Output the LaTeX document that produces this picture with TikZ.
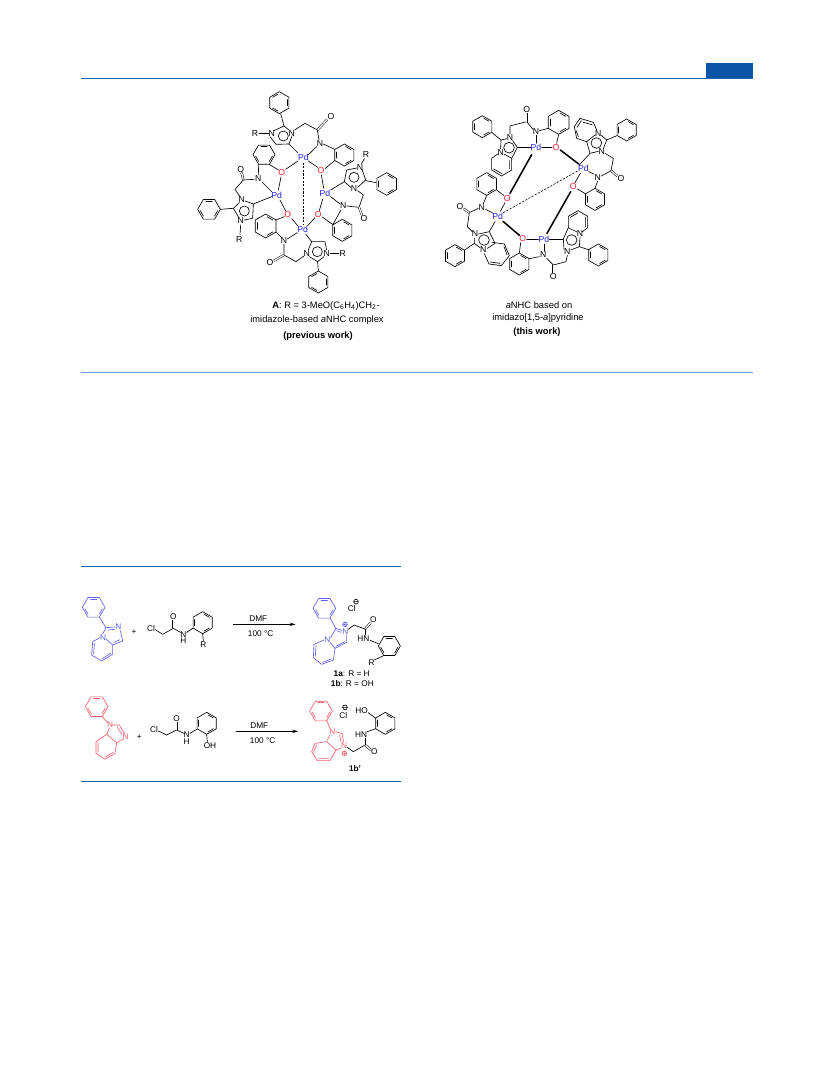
\documentclass[tikz,border=0pt]{standalone}
\usepackage{fontspec}
\setmainfont{Liberation Sans}
\usetikzlibrary{arrows.meta}
\definecolor{rulec}{HTML}{1F62AE}
\definecolor{rulel}{HTML}{6C9BD6}
\definecolor{tabc}{HTML}{0A55A6}
\definecolor{pdblue}{HTML}{2020F0}
\definecolor{oxred}{HTML}{F02030}
\definecolor{bluec}{HTML}{5F5FEE}
\definecolor{redc}{HTML}{F2606E}
\tikzset{
  bond/.style={line width=.48pt,line join=round,line cap=round},
  thick bond/.style={line width=1.15pt,line cap=round},
  dbond/.style={double,line width=.38pt,double distance=.95pt},
  dash bond/.style={line width=.45pt,dash pattern=on 1.6pt off 1.1pt},
  atom/.style={inner sep=0pt,font=\fontsize{6.5}{7.5}\selectfont},
  small/.style={inner sep=0pt,font=\fontsize{6.2}{7.2}\selectfont},
  capt/.style={inner sep=0pt,font=\fontsize{7}{8.4}\selectfont},
  hair/.style={line width=.7pt},
  zoomA/.style={shift={#1},x=.25pt,y=-.25pt}
}
\newcount\nodeno
% atom label: [colour]{x}{y}{text}
\newcommand\lab[4][black]{\global\advance\nodeno by 1
  \node[atom,text=#1] (a\the\nodeno) at (#2,#3) {#4};}
\newcommand\slab[4][black]{\global\advance\nodeno by 1
  \node[small,text=#1] (a\the\nodeno) at (#2,#3) {#4};}
% aromatic ring: [colour]{cx}{cy}{r}{rot}
\newcommand\ring[5][black]{\begin{scope}[shift={(#2,#3)}]
  \draw[bond,#1] (#5:#4) -- (#5+60:#4) -- (#5+120:#4) -- (#5+180:#4) -- (#5+240:#4) -- (#5+300:#4) -- cycle;
  \draw[bond,#1] (#5+9:#4*.78) -- (#5+51:#4*.78);
  \draw[bond,#1] (#5+129:#4*.78) -- (#5+171:#4*.78);
  \draw[bond,#1] (#5+249:#4*.78) -- (#5+291:#4*.78);
\end{scope}}
\newcommand\bd[1]{\draw[bond] #1;}
\begin{document}
\begin{tikzpicture}[x=.75pt,y=-.75pt]
\useasboundingbox (0,0) rectangle (833,1091);
\fill[white] (0,0) rectangle (833,1091);
% rules
\fill[tabc] (706,63) rectangle (753,78);
\draw[rulec,hair] (81,78.3) -- (753,78.3);
\draw[rulel,hair] (81,372) -- (753,372);
\draw[rulec,hair] (81,566) -- (401,566);
\draw[rulec,hair] (81,781) -- (401,781);
% ---------- complex A
\begin{scope}[zoomA={(190,80)}]
\lab[pdblue]{340}{233}{Pd}\lab[pdblue]{260}{345}{Pd}\lab[pdblue]{405}{340}{Pd}\lab[pdblue]{338}{448}{Pd}
\lab[oxred]{275}{278}{O}\lab[oxred]{393}{272}{O}\lab[oxred]{293}{405}{O}\lab[oxred]{385}{403}{O}
% top unit
\ring{268}{68}{33}{90}
\bd{(272,101) -- (282,138) -- (252,152)}
\bd{(240,170) -- (258,193) -- (297,192) -- (305,170)}
\bd{(297,150) -- (282,138)}
\draw[bond] (280,168) circle (15);
\lab{245}{160}{N}\lab{305}{160}{N}\lab{195}{160}{R}
\bd{(207,160) -- (236,160)}
\bd{(314,150) -- (345,130) -- (382,150)}
\draw[dbond] (382,150) -- (412,118);
\lab{423}{110}{O}
\bd{(382,150) -- (387,180)}
\lab{390}{190}{N}
\ring{463}{225}{33}{30}
\bd{(400,192) -- (434,208)}
\bd{(434,242) -- (405,266)}
\bd{(380,200) -- (355,224)}
\bd{(383,262) -- (355,243)}
\bd{(297,192) -- (323,218)}
\bd{(287,268) -- (324,243)}
\draw[dash bond] (340,248) -- (340,432);
% left unit
\ring{222}{224}{33}{0}
\bd{(206,253) -- (205,285)}
\bd{(238,253) -- (265,270)}
\lab{205}{297}{N}\lab{155}{360}{N}\lab{152}{423}{N}\lab{148}{478}{R}
\draw[dbond] (160,300) -- (155,278);
\lab{152}{268}{O}
\bd{(193,298) -- (160,300) -- (135,328) -- (150,350)}
\bd{(216,306) -- (245,335)}
\bd{(273,291) -- (265,330)}
\bd{(270,360) -- (287,393)}
\bd{(148,368) -- (130,385) -- (146,412)}
\bd{(165,363) -- (190,372) -- (188,415) -- (163,420)}
\draw[bond] (163,393) circle (15);
\bd{(190,372) -- (245,350)}
\ring{57}{388}{34}{0}
\bd{(91,388) -- (130,385)}
\bd{(152,435) -- (150,463)}
% bottom unit
\ring{227}{438}{36}{30}
\bd{(258,420) -- (283,410)}
\bd{(258,456) -- (275,473)}
\lab{282}{482}{N}
\bd{(292,477) -- (322,458)}
\bd{(282,492) -- (282,525) -- (318,545) -- (342,528)}
\draw[dbond] (282,525) -- (252,542);
\lab{240}{548}{O}
\lab{350}{520}{N}\lab{410}{520}{N}\lab{458}{520}{R}
\bd{(355,510) -- (365,485) -- (405,485) -- (410,510)}
\bd{(358,530) -- (383,545) -- (402,530)}
\draw[bond] (382,515) circle (15);
\bd{(347,462) -- (365,485)}
\bd{(421,520) -- (447,520)}
\bd{(383,545) -- (385,573)}
\ring{385}{606}{33}{90}
\bd{(305,416) -- (323,437)}
\bd{(375,413) -- (353,437)}
% right unit
\bd{(394,284) -- (401,325)}
\bd{(388,392) -- (398,358)}
\bd{(422,330) -- (463,305)}
\bd{(463,305) -- (470,270) -- (500,264)}
\bd{(463,305) -- (482,322)}
\bd{(516,268) -- (527,300) -- (503,322)}
\lab{510}{262}{N}\lab{492}{325}{N}\lab{528}{225}{R}
\bd{(514,252) -- (523,236)}
\draw[bond] (492,292) circle (15);
\bd{(527,302) -- (558,308)}
\ring{590}{312}{34}{30}
\bd{(503,332) -- (520,345) -- (507,382)}
\bd{(470,378) -- (507,382)}
\draw[dbond] (507,382) -- (516,405);
\lab{522}{415}{O}
\lab{460}{378}{N}
\bd{(422,350) -- (450,372)}
\bd{(453,390) -- (429,433)}
\ring{457}{451}{33}{30}
\bd{(397,411) -- (429,434)}
\end{scope}
% ---------- right complex
\begin{scope}[zoomA={(430,90)}]
\lab[pdblue]{318}{172}{Pd}\lab[pdblue]{460}{235}{Pd}\lab[pdblue]{203}{378}{Pd}\lab[pdblue]{342}{447}{Pd}
\lab[oxred]{378}{172}{O}\lab[oxred]{232}{325}{O}\lab[oxred]{430}{290}{O}\lab[oxred]{278}{445}{O}
\draw[thick bond] (391,180) -- (446,222);
\draw[thick bond] (305,194) -- (240,310);
\draw[thick bond] (422,305) -- (351,430);
\draw[thick bond] (219,394) -- (268,436);
\draw[dash bond] (220,368) -- (443,243);
% top unit
\lab{318}{125}{N}\lab{240}{143}{N}\lab{212}{187}{N}
\ring{157}{110}{33}{30}
\bd{(186,128) -- (213,150) -- (231,146)}
\bd{(213,150) -- (212,176)}
\bd{(248,152) -- (262,172) -- (245,205) -- (222,192)}
\draw[bond] (237,173) circle (16);
\draw[bond] (245,205) -- (245,240) -- (215,258) -- (185,240) -- (185,205) -- (203,192);
\draw[bond] (239,212) -- (239,236) (216,251) -- (191,237);
\bd{(262,172) -- (302,172)}
\bd{(240,132) -- (240,108) -- (290,95) -- (309,118)}
\draw[dbond] (290,95) -- (290,68);
\lab{290}{58}{O}
\bd{(318,136) -- (318,160)}
\bd{(335,172) -- (366,172)}
\ring{386}{97}{36}{30}
\bd{(328,122) -- (355,115)}
\bd{(386,133) -- (380,160)}
% right unit
\lab{505}{130}{N}\lab{515}{185}{N}\lab{503}{262}{N}
\ring{590}{120}{33}{30}
\bd{(561,137) -- (530,150) -- (514,136)}
\bd{(530,150) -- (520,176)}
\bd{(505,184) -- (480,190) -- (470,155) -- (496,134)}
\draw[bond] (499,159) circle (16);
\bd{(447,226) -- (480,190)}
\draw[bond] (470,155) -- (440,145) -- (433,110) -- (450,85) -- (490,97) -- (500,120);
\draw[bond] (441,112) -- (454,92) (438,122) -- (445,140) (460,97) -- (486,104);
\bd{(525,190) -- (550,205) -- (543,242)}
\draw[dbond] (543,242) -- (562,258);
\lab{573}{265}{O}
\bd{(514,258) -- (543,242)}
\bd{(492,252) -- (476,245)}
\bd{(503,273) -- (495,295)}
\ring{495}{328}{33}{30}
\bd{(442,297) -- (466,311)}
\bd{(435,278) -- (451,250)}
% left unit
\lab{155}{352}{N}\lab{135}{432}{N}\lab{160}{480}{N}
\ring{170}{282}{34}{30}
\bd{(170,316) -- (160,341)}
\bd{(200,300) -- (222,317)}
\bd{(225,338) -- (211,364)}
\bd{(167,358) -- (188,369)}
\bd{(145,355) -- (118,368) -- (112,410) -- (127,425)}
\draw[dbond] (118,368) -- (100,356);
\lab{90}{350}{O}
\bd{(133,444) -- (133,460) -- (150,473)}
\bd{(146,432) -- (178,425) -- (195,460) -- (172,475)}
\draw[bond] (162,450) circle (16);
\bd{(195,395) -- (178,425)}
\bd{(133,460) -- (104,480)}
\ring{75}{497}{33}{30}
\draw[bond] (186,457) -- (223,462) -- (238,497) -- (214,527) -- (177,522) -- (163,491);
\draw[bond] (222,470) -- (231,494) (210,520) -- (181,516);
% bottom unit
\lab{340}{495}{N}\lab{450}{430}{N}\lab{412}{485}{N}
\bd{(290,447) -- (325,447)}
\bd{(342,484) -- (342,462)}
\bd{(358,447) -- (400,447)}
\bd{(272,458) -- (268,489)}
\ring{268}{522}{33}{30}
\bd{(328,500) -- (297,506)}
\bd{(350,505) -- (370,525) -- (408,515) -- (412,496)}
\draw[dbond] (370,525) -- (370,550);
\lab{370}{561}{O}
\bd{(400,447) -- (415,413) -- (441,426)}
\bd{(400,447) -- (402,478)}
\bd{(422,480) -- (448,470) -- (450,442)}
\draw[bond] (425,450) circle (16);
\bd{(448,470) -- (478,480)}
\ring{505}{495}{33}{30}
\draw[bond] (415,413) -- (415,379) -- (444,362) -- (473,379) -- (473,413) -- (456,426);
\draw[bond] (421,382) -- (443,369) (467,382) -- (467,410);
\end{scope}
% captions
\node[capt] (c1) at (326,306) {\textbf{A}: R = 3-MeO(C\textsubscript{6}H\textsubscript{4})CH\textsubscript{2}-};
\node[capt] (c2) at (317,320) {imidazole-based \textit{a}NHC complex};
\node[capt] (c3) at (318,336) {\textbf{(previous work)}};
\node[capt] (c4) at (539,305) {\textit{a}NHC based on};
\node[capt] (c5) at (538,318) {imidazo[1,5-\textit{a}]pyridine};
\node[capt] (c6) at (537,332) {\textbf{(this work)}};
% ---------- scheme row 1
\begin{scope}[zoomA={(70,585)}]
\ring[bluec]{71}{67}{34}{0}
\draw[bond,bluec] (88,96) -- (108,128) -- (98,147);
\draw[bond,bluec] (108,128) -- (135,126) (114,135) -- (134,133);
\slab[bluec]{145}{126}{N}\slab[bluec]{99}{157}{N}
\draw[bond,bluec] (151,137) -- (158,168) -- (128,180) -- (108,162);
\draw[bond,bluec] (150,164) -- (132,172);
\draw[bond,bluec] (128,180) -- (128,208) -- (95,228) -- (65,210) -- (68,170) -- (90,158);
\draw[bond,bluec] (122,205) -- (97,221) (71,206) -- (73,175);
\slab{243}{130}{Cl}\slab{310}{95}{O}\slab{340}{148}{N}\slab{340}{168}{H}\slab{400}{180}{R}\slab{192}{140}{+}
\bd{(256,134) -- (278,148) -- (310,130) -- (332,142)}
\draw[dbond] (310,130) -- (310,106);
\bd{(350,142) -- (368,130)}
\ring{398}{113}{33}{30}
\bd{(398,147) -- (400,168)}
\end{scope}
\begin{scope}[zoomA={(230,585)}]
\coordinate (a1s) at (10,118);\coordinate (a1e) at (197,118);
\draw[bond,-{Stealth[length=4.5pt,width=2.4pt]}] (a1s) -- (a1e);
\slab{85}{100}{DMF}\slab{92}{145}{100 °C}
\ring[bluec]{283}{70}{34}{0}
\draw[bond,bluec] (300,99) -- (318,130) -- (302,158);
\draw[bond,bluec] (318,130) -- (336,136) (321,137) -- (333,142);
\slab[bluec]{346}{140}{N}\slab[bluec]{292}{165}{N}
\draw[bond,bluec] (350,150) -- (350,172) -- (315,190) -- (300,172);
\draw[bond,bluec] (344,170) -- (320,183);
\draw[bond,bluec] (315,190) -- (310,225) -- (275,238) -- (250,218) -- (252,178) -- (282,165);
\draw[bond,bluec] (304,222) -- (278,232) (256,214) -- (258,182);
\draw[bond,bluec] (345,118) circle (7) (340,118) -- (350,118) (345,113) -- (345,123);
\slab{365}{72}{Cl}
\draw[bond] (378,50) circle (7) (373,50) -- (383,50);
\bd{(355,133) -- (372,120) -- (405,132)}
\draw[dbond] (405,132) -- (422,113);
\slab{430}{105}{O}\slab{400}{162}{HN}
\bd{(405,132) -- (405,150)}
\bd{(420,166) -- (445,176)}
\ring{478}{183}{33}{0}
\bd{(461,212) -- (433,225)}
\slab{425}{232}{R}
\node[small] (l1a) at (365,265) {\textbf{1a}: R = H};
\node[small] (l1b) at (367,295) {\textbf{1b}: R = OH};
\end{scope}
% ---------- scheme row 2
\begin{scope}[zoomA={(70,690)}]
\ring[redc]{80}{50}{34}{0}
\draw[bond,redc] (97,80) -- (113,97);
\slab[redc]{120}{105}{N}\slab[redc]{167}{141}{N}
\draw[bond,redc] (128,105) -- (148,105) -- (163,130);
\draw[bond,redc] (141,110) -- (155,133);
\draw[bond,redc] (160,148) -- (140,158) -- (110,133) -- (118,114);
\draw[bond,redc] (110,133) -- (78,155) -- (78,190) -- (105,208) -- (135,190) -- (140,158);
\draw[bond,redc] (84,158) -- (84,186) (106,201) -- (129,187);
\slab{252}{120}{Cl}\slab{320}{85}{O}\slab{350}{135}{N}\slab{350}{155}{H}\slab{420}{168}{OH}\slab{208}{140}{+}
\bd{(265,123) -- (290,135) -- (320,120) -- (342,130)}
\draw[dbond] (320,120) -- (320,96);
\bd{(360,130) -- (380,118)}
\ring{410}{100}{33}{30}
\bd{(410,133) -- (412,156)}
\end{scope}
\begin{scope}[zoomA={(230,690)}]
\coordinate (a2s) at (18,124);\coordinate (a2e) at (205,124);
\draw[bond,-{Stealth[length=4.5pt,width=2.4pt]}] (a2s) -- (a2e);
\slab{88}{107}{DMF}\slab{98}{152}{100 °C}
\ring[redc]{273}{63}{34}{0}
\draw[bond,redc] (290,91) -- (300,115);
\slab[redc]{307}{125}{N}\slab[redc]{342}{167}{N}
\draw[bond,redc] (317,125) -- (336,131) -- (341,156);
\draw[bond,redc] (329,136) -- (333,156);
\draw[bond,redc] (332,175) -- (318,180) -- (290,155) -- (300,135);
\draw[bond,redc] (290,155) -- (255,160) -- (245,185) -- (262,212) -- (300,212) -- (318,180);
\draw[bond,redc] (251,184) -- (260,165) (266,206) -- (296,206);
\draw[bond,redc] (343,190) circle (7) (338,190) -- (348,190) (343,185) -- (343,195);
\slab{340}{78}{Cl}
\draw[bond] (345,52) circle (7) (340,52) -- (350,52);
\bd{(352,172) -- (370,185) -- (405,165)}
\draw[dbond] (405,165) -- (423,180);
\slab{433}{185}{O}\slab{393}{133}{HN}\slab{395}{62}{HO}
\bd{(405,145) -- (405,165)}
\bd{(412,125) -- (437,116)}
\bd{(415,68) -- (437,85)}
\ring{466}{100}{33}{30}
\node[small] (l1bp) at (375,235) {\textbf{1b'}};
\end{scope}
\end{tikzpicture}
\end{document}
